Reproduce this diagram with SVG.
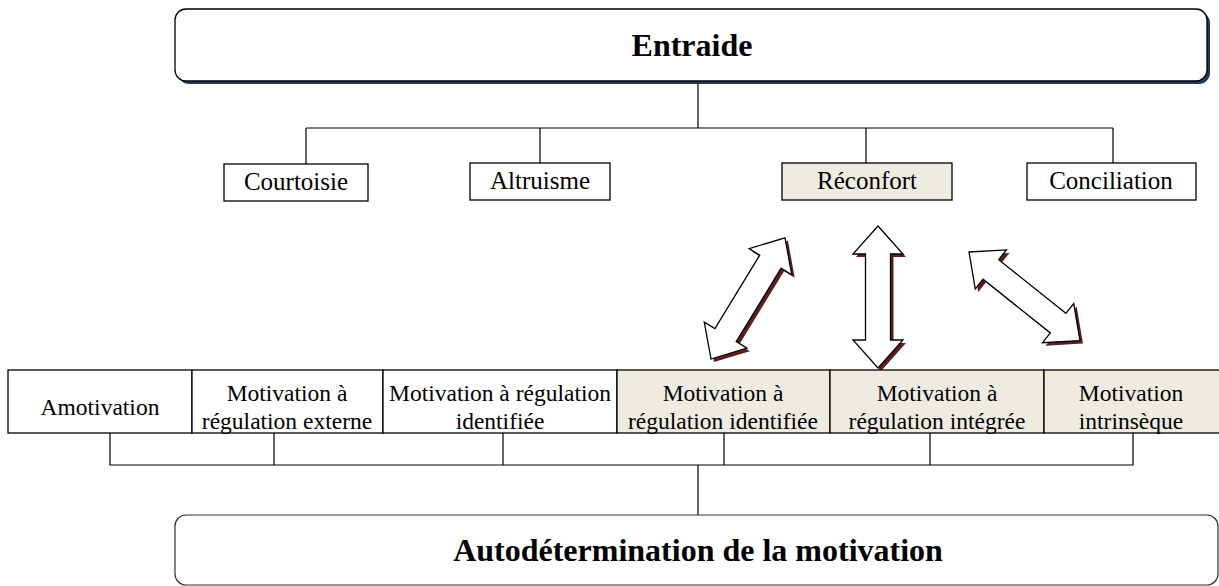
<svg xmlns="http://www.w3.org/2000/svg" width="1219" height="586" viewBox="0 0 1219 586">
<defs>
<style>
.t{font-family:"Liberation Serif","Times New Roman",serif;fill:#000;text-anchor:middle}
.title{font-size:32px;font-weight:bold}
.lbl{font-size:25px}
.sm{font-size:23.5px}
.box{fill:#fff;stroke:#000;stroke-width:1.3}
.beige{fill:#EEEBE0;stroke:#000;stroke-width:1.3}
.ln{fill:none;stroke:#000;stroke-width:1.2}
.arr{fill:#fff;stroke:#000;stroke-width:1.3;stroke-linejoin:miter}
.ash{fill:#5E1E1E}
</style>
<path id="dbl" d="M0,0 L28,-25 L28,-12.5 L114,-12.5 L114,-25 L142,0 L114,25 L114,12.5 L28,12.5 L28,25 Z"/>
</defs>
<g id="connectors">
<path class="ln" d="M698,81 V128 M306,128 H1113 M306,128 V164 M540,128 V163 M866,128 V163 M1113,128 V163"/>
<path class="ln" d="M110,433 V465 H1133 V433 M274,433 V465 M503,433 V465 M724,433 V465 M930,433 V465 M698,465 V515"/>
</g>
<g id="entraide">
<rect x="178" y="12" width="1032" height="72" rx="11" fill="#1F3A5C"/>
<rect class="box" x="175" y="9" width="1032" height="72" rx="11"/>
<text class="t title" x="692" y="56">Entraide</text>
</g>
<g id="courtoisie"><rect class="box" x="224" y="164" width="144" height="37"/><text class="t lbl" x="296" y="190">Courtoisie</text></g>
<g id="altruisme"><rect class="box" x="470" y="163" width="140" height="37"/><text class="t lbl" x="540" y="189">Altruisme</text></g>
<g id="reconfort"><rect class="beige" x="782" y="163" width="170" height="37"/><text class="t lbl" x="867" y="189">Réconfort</text></g>
<g id="conciliation"><rect class="box" x="1027" y="163" width="169" height="37"/><text class="t lbl" x="1111" y="189">Conciliation</text></g>
<g id="arrows">
<use href="#dbl" class="ash" transform="translate(714,362) rotate(-58.6)"/>
<use href="#dbl" class="arr" transform="translate(711,359) rotate(-58.6)"/>
<use href="#dbl" class="ash" transform="translate(881,229) rotate(90)"/>
<use href="#dbl" class="arr" transform="translate(878,226) rotate(90)"/>
<use href="#dbl" class="ash" transform="translate(972,255) rotate(38.6)"/>
<use href="#dbl" class="arr" transform="translate(969,252) rotate(38.6)"/>
</g>
<g id="amotivation"><rect class="box" x="8" y="370" width="184" height="63"/><text class="t sm" x="100" y="415">Amotivation</text></g>
<g id="externe"><rect class="box" x="192" y="370" width="191" height="63"/><text class="t sm" x="287" y="401">Motivation à</text><text class="t sm" x="287" y="429">régulation externe</text></g>
<g id="identifiee1"><rect class="box" x="383" y="370" width="234" height="63"/><text class="t sm" x="500" y="401">Motivation à régulation</text><text class="t sm" x="500" y="429">identifiée</text></g>
<g id="identifiee2"><rect class="beige" x="617" y="370" width="213" height="63"/><text class="t sm" x="723" y="401">Motivation à</text><text class="t sm" x="723" y="429">régulation identifiée</text></g>
<g id="integree"><rect class="beige" x="830" y="370" width="214" height="63"/><text class="t sm" x="937" y="401">Motivation à</text><text class="t sm" x="937" y="429">régulation intégrée</text></g>
<g id="intrinseque"><rect class="beige" x="1044" y="370" width="178" height="63"/><text class="t sm" x="1131" y="401">Motivation</text><text class="t sm" x="1131" y="429">intrinsèque</text></g>
<g id="autodetermination">
<rect x="175" y="515" width="1043" height="70" rx="11" fill="#fff" stroke="#333" stroke-width="1.2"/>
<text class="t title" x="698" y="561">Autodétermination de la motivation</text>
</g>
</svg>
